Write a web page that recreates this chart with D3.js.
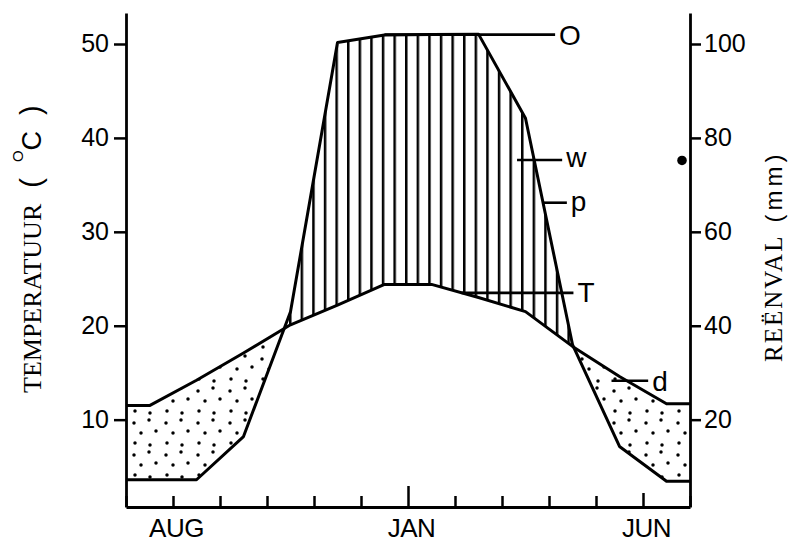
<!DOCTYPE html>
<html>
<head>
<meta charset="utf-8">
<script src="https://cdn.jsdelivr.net/npm/d3@7"></script>
<style>
html, body { margin: 0; padding: 0; background: #fff; }
svg { display: block; }
</style>
</head>
<body>
<svg id="chart" width="789" height="544"></svg>
<script>
// Monthly climate record, July to June (southern-hemisphere year)
const months = ["JUL", "AUG", "SEP", "OKT", "NOV", "DES", "JAN", "FEB", "MRT", "APR", "MEI", "JUN"];
const temperature = [11.5, 14.2, 17.1, 20.1, 22.2, 24.4, 24.4, 23.0, 21.5, 17.8, 14.6, 11.7]; // °C
const rainfall = [7.2, 7.2, 16.4, 43.0, 100.3, 101.9, 102.0, 102.1, 84.2, 36.0, 14.3, 6.9];    // mm
const tempTicks = [10, 20, 30, 40, 50];
const rainTicks = [20, 40, 60, 80, 100];
const monthTicks = d3.range(0, 13);
const monthTickLabels = ["", "AUG", "", "", "", "", "JAN", "", "", "", "", "JUN", ""];
const rainMarker = [{ month: 11.83, rain: 75.2 }];

const W = 789, H = 544;
const svg = d3.select("#chart");
const SANS = '"Liberation Sans", Arial, Helvetica, sans-serif';
const SERIF = '"Liberation Serif", "Times New Roman", serif';

// Scales: one month per unit on x; rainfall axis is twice the temperature axis
const x = d3.scaleLinear().domain([0, 12]).range([126, 690]);
const yT = d3.scaleLinear().domain([0.7, 53.3]).range([507, 13]);
const yR = d3.scaleLinear().domain([1.4, 106.6]).range([507, 13]);

// Mid-month vertices, with the first and last months held flat to the axes
const pts = [{ m: 0, t: temperature[0], r: rainfall[0] }]
  .concat(months.map((_, i) => ({ m: i + 0.5, t: temperature[i], r: rainfall[i] })))
  .concat([{ m: 12, t: temperature[11], r: rainfall[11] }]);

const defs = svg.append("defs");

// Clip regions above / below each curve
function addClip(id, y0, y1) {
  defs.append("clipPath").attr("id", id)
    .append("path")
    .attr("d", d3.area().x(d => x(d.m)).y0(y0).y1(y1)(pts));
}
addClip("aboveP", () => 0, d => yR(d.r));
addClip("belowP", d => yR(d.r), () => H);
addClip("aboveT", () => 0, d => yT(d.t));
addClip("belowT", d => yT(d.t), () => H);

// Stipple for the dry season
const dots = defs.append("pattern").attr("id", "stipple")
  .attr("patternUnits", "userSpaceOnUse")
  .attr("width", 32).attr("height", 32)
  .attr("x", 2).attr("y", 1);
[[4, 6], [19, 3], [11, 16], [26, 14], [5, 26], [20, 28]].forEach(([cx, cy]) => {
  dots.append("circle").attr("cx", cx).attr("cy", cy).attr("r", 1.75).attr("fill", "#000");
});

// Vertical hatching for the wet season
const hatch = defs.append("pattern").attr("id", "hatch")
  .attr("patternUnits", "userSpaceOnUse")
  .attr("width", 11.6).attr("height", 20)
  .attr("x", -1).attr("y", 0);
hatch.append("rect").attr("x", 0).attr("y", 0).attr("width", 2.5).attr("height", 20).attr("fill", "#000");

const plotRect = { x: x(0), y: 0, w: x(12) - x(0), h: yT.range()[0] };

// Dry: below temperature, above rainfall
svg.append("g").attr("clip-path", "url(#belowT)")
  .append("g").attr("clip-path", "url(#aboveP)")
  .append("rect")
  .attr("x", plotRect.x).attr("y", plotRect.y)
  .attr("width", plotRect.w).attr("height", plotRect.h)
  .attr("fill", "url(#stipple)");

// Wet: below rainfall, above temperature
svg.append("g").attr("clip-path", "url(#belowP)")
  .append("g").attr("clip-path", "url(#aboveT)")
  .append("rect")
  .attr("x", plotRect.x).attr("y", plotRect.y)
  .attr("width", plotRect.w).attr("height", plotRect.h)
  .attr("fill", "url(#hatch)");

// Curves
svg.append("path")
  .attr("d", d3.line().x(d => x(d.m)).y(d => yT(d.t))(pts))
  .attr("fill", "none").attr("stroke", "#000").attr("stroke-width", 3).attr("stroke-linejoin", "round");
svg.append("path")
  .attr("d", d3.line().x(d => x(d.m)).y(d => yR(d.r))(pts))
  .attr("fill", "none").attr("stroke", "#000").attr("stroke-width", 3).attr("stroke-linejoin", "round");

// Axes
function styleAxis(g) {
  g.selectAll(".domain").attr("stroke", "#000").attr("stroke-width", 2.8);
  g.selectAll(".tick line").attr("stroke", "#000").attr("stroke-width", 2.5);
  g.selectAll(".tick text").attr("fill", "#000").attr("font-family", SANS);
}

const gL = svg.append("g").attr("transform", `translate(${x(0)},0)`)
  .call(d3.axisLeft(yT).tickValues(tempTicks).tickSizeInner(12).tickSizeOuter(0).tickPadding(5));
gL.attr("font-size", 25);
styleAxis(gL);

const gR = svg.append("g").attr("transform", `translate(${x(12)},0)`)
  .call(d3.axisRight(yR).tickValues(rainTicks).tickSizeInner(11).tickSizeOuter(0).tickPadding(3));
gR.attr("font-size", 25);
styleAxis(gR);

const gB = svg.append("g").attr("transform", `translate(0,${yT.range()[0]})`)
  .call(d3.axisBottom(x).tickValues(monthTicks).tickSizeInner(-11).tickSizeOuter(0).tickPadding(12)
    .tickFormat(i => monthTickLabels[i]));
gB.attr("font-size", 26);
styleAxis(gB);
gB.selectAll(".tick line").attr("y2", i => i === 6 ? -21 : (i === 11 ? -14 : -11));
gB.selectAll(".tick text").attr("dx", 3).attr("letter-spacing", -0.5);

// Annotation pointers
const pointers = [
  { label: "O", y: yR(102.0), m0: 5.5, m1: 9.13, dy: 10.5 },
  { label: "w", y: yR(75.3), m0: 8.32, m1: 9.28, dy: 7 },
  { label: "p", y: yR(66.2), m0: 8.86, m1: 9.38, dy: 8 },
  { label: "T", y: yT(23.5), m0: 7.14, m1: 9.52, dy: 9.5 },
  { label: "d", y: yT(14.15), m0: 10.33, m1: 11.11, dy: 10.5 }
];
const gP = svg.append("g");
pointers.forEach(p => {
  gP.append("line")
    .attr("x1", x(p.m0)).attr("x2", x(p.m1))
    .attr("y1", p.y).attr("y2", p.y)
    .attr("stroke", "#000").attr("stroke-width", 2.6);
  gP.append("text")
    .attr("x", x(p.m1) + 4).attr("y", p.y + p.dy)
    .attr("font-family", SANS).attr("font-size", 28).attr("fill", "#000")
    .text(p.label);
});

// Marker dot on the rainfall scale
svg.selectAll(".marker").data(rainMarker).enter().append("circle")
  .attr("cx", d => x(d.month)).attr("cy", d => yR(d.rain)).attr("r", 4.8).attr("fill", "#000");

// Axis titles
const tl = svg.append("text")
  .attr("transform", "translate(41,393) rotate(-90)")
  .attr("fill", "#000").attr("font-family", SERIF).attr("font-size", 26);
tl.append("tspan").text("TEMPERATUUR");
tl.append("tspan").attr("dx", 16).attr("font-family", SANS).attr("font-size", 29).text("(");
tl.append("tspan").attr("dx", 16).attr("dy", -18).attr("font-family", SANS).attr("font-size", 15).text("O");
tl.append("tspan").attr("dy", 18).attr("font-family", SANS).attr("font-size", 27).text("C");
tl.append("tspan").attr("dx", 16).attr("font-family", SANS).attr("font-size", 29).text(")");

const tr = svg.append("text")
  .attr("transform", "translate(782,362) rotate(-90)")
  .attr("fill", "#000").attr("font-family", SERIF).attr("font-size", 25);
tr.append("tspan").attr("letter-spacing", 2).text("REËNVAL");
tr.append("tspan").attr("dx", 12).attr("font-family", SANS).attr("font-size", 24).attr("letter-spacing", 4).text("(mm)");
</script>
</body>
</html>
